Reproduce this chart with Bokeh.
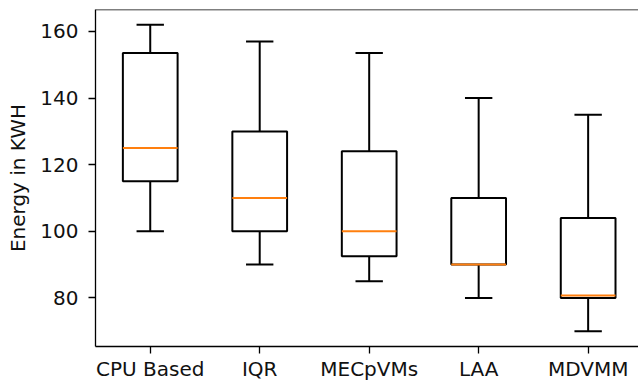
from bokeh.plotting import figure
from bokeh.models import Range1d, FixedTicker, LinearAxis, ColumnDataSource, Span
from bokeh.embed import file_html
from bokeh.resources import INLINE

categories = ["CPU Based", "IQR", "MECpVMs", "LAA", "MDVMM"]
whisker_low = [100, 90, 85, 80, 70]
q1 = [115, 100, 92.5, 90, 80]
median = [125, 110, 100, 90, 80.7]
q3 = [153.5, 130, 124, 110, 104]
whisker_high = [162, 157, 153.5, 140, 135]
y_ticks = [80, 100, 120, 140, 160]

pos = list(range(1, len(categories) + 1))
box_w = 0.5
cap_w = 0.25

src = ColumnDataSource(dict(
    x=pos, lo=whisker_low, q1=q1, med=median, q3=q3, hi=whisker_high,
    bl=[x - box_w / 2 for x in pos], br=[x + box_w / 2 for x in pos],
    cl=[x - cap_w / 2 for x in pos], cr=[x + cap_w / 2 for x in pos],
))

FONT = "DejaVu Sans"
FS = "20px"
Y0, Y1 = 65.4, 166.6
p = figure(width=638, height=383, output_backend="svg", toolbar_location=None,
           x_range=Range1d(0.5, 5.46), y_range=Range1d(Y0, Y1),
           x_axis_location=None,
           min_border_left=95, min_border_right=0, min_border_top=9, min_border_bottom=36)
p.outline_line_color = None
p.xgrid.visible = False
p.ygrid.visible = False
p.background_fill_color = "white"
p.border_fill_color = "white"

# top spine
p.add_layout(Span(location=Y1, dimension="width", line_color="black", line_width=1.3))

xa = LinearAxis(ticker=FixedTicker(ticks=pos),
                major_label_overrides={x: c for x, c in zip(pos, categories)})
p.add_layout(xa, "below")
ya = p.yaxis[0]

for ax in (xa, ya):
    ax.axis_line_color = "black"
    ax.axis_line_width = 1.3
    ax.major_tick_line_color = "black"
    ax.major_tick_line_width = 1.3
    ax.major_tick_out = 7
    ax.major_tick_in = 0
    ax.minor_tick_line_color = None
    ax.major_label_text_font = FONT
    ax.major_label_text_font_size = FS
    ax.major_label_text_color = "#111111"

xa.major_label_standoff = 3
ya.major_label_standoff = 10
ya.ticker = FixedTicker(ticks=y_ticks)
ya.axis_label = "Energy in KWH"
ya.axis_label_text_font = FONT
ya.axis_label_text_font_style = "normal"
ya.axis_label_text_font_size = FS
ya.axis_label_text_color = "#111111"
ya.axis_label_standoff = 7

lw = 2
p.segment(x0="x", y0="q3", x1="x", y1="hi", source=src, line_color="black", line_width=lw)
p.segment(x0="x", y0="q1", x1="x", y1="lo", source=src, line_color="black", line_width=lw)
p.segment(x0="cl", y0="hi", x1="cr", y1="hi", source=src, line_color="black", line_width=lw)
p.segment(x0="cl", y0="lo", x1="cr", y1="lo", source=src, line_color="black", line_width=lw)
p.quad(left="bl", right="br", bottom="q1", top="q3", source=src,
       fill_color="white", line_color="black", line_width=lw)
p.segment(x0="bl", y0="med", x1="br", y1="med", source=src, line_color="#ff7f0e", line_width=lw)

open("out.html", "w").write(file_html(p, INLINE))
